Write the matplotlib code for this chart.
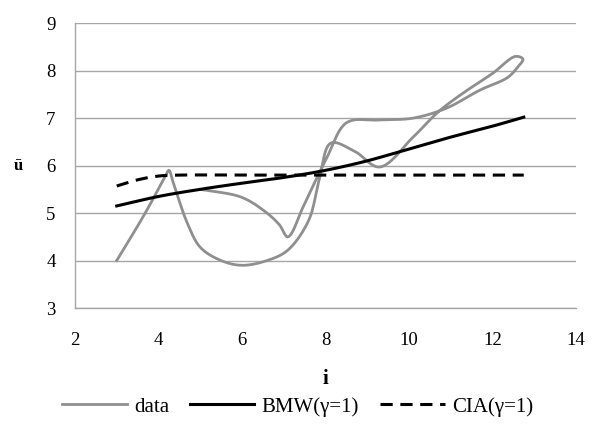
import numpy as np
import matplotlib
matplotlib.use("Agg")
import matplotlib.pyplot as plt

# data path (in drawing order)
data_i = [3.0, 3.65, 4.15, 4.25, 4.35, 4.69, 5.0, 5.5, 6.0, 6.6, 7.1, 7.6, 7.85,
          8.12, 8.7, 9.3, 10.1, 10.7, 11.3, 12.0, 12.55, 12.73, 12.6, 12.37, 11.7,
          10.9, 10.1, 9.3, 8.5, 8.05, 7.5, 7.1, 6.9, 6.6, 6.0, 5.0]
data_u = [4.0, 4.95, 5.75, 5.9, 5.65, 4.79, 4.28, 4.0, 3.9, 4.0, 4.22, 4.85, 5.7,
          6.47, 6.3, 5.97, 6.6, 7.13, 7.53, 7.94, 8.3, 8.24, 8.07, 7.86, 7.59,
          7.21, 7.0, 6.96, 6.9, 6.2, 5.2, 4.5, 4.75, 5.0, 5.33, 5.5]

bmw_i = [3.0, 4.0, 5.0, 6.0, 7.0, 8.0, 9.0, 10.0, 11.0, 12.0, 12.75]
bmw_u = [5.15, 5.35, 5.5, 5.63, 5.75, 5.9, 6.1, 6.35, 6.6, 6.83, 7.02]

cia_i = [3.0, 3.5, 4.0, 4.5, 6.0, 8.0, 10.0, 12.0, 12.75]
cia_u = [5.57, 5.7, 5.78, 5.8, 5.8, 5.8, 5.8, 5.8, 5.8]


def smooth(xs, ys, n=40):
    # centripetal catmull-rom, like the smoothed lines in a spreadsheet chart
    p = np.column_stack([xs, ys]).astype(float)
    p = np.vstack([2 * p[0] - p[1], p, 2 * p[-1] - p[-2]])
    out = []
    for k in range(1, len(p) - 2):
        p0, p1, p2, p3 = p[k - 1], p[k], p[k + 1], p[k + 2]
        t0 = 0.0
        t1 = t0 + max(np.linalg.norm(p1 - p0), 1e-6) ** 0.5
        t2 = t1 + max(np.linalg.norm(p2 - p1), 1e-6) ** 0.5
        t3 = t2 + max(np.linalg.norm(p3 - p2), 1e-6) ** 0.5
        t = np.linspace(t1, t2, n)[:, None]
        a1 = (t1 - t) / (t1 - t0) * p0 + (t - t0) / (t1 - t0) * p1
        a2 = (t2 - t) / (t2 - t1) * p1 + (t - t1) / (t2 - t1) * p2
        a3 = (t3 - t) / (t3 - t2) * p2 + (t - t2) / (t3 - t2) * p3
        b1 = (t2 - t) / (t2 - t0) * a1 + (t - t0) / (t2 - t0) * a2
        b2 = (t3 - t) / (t3 - t1) * a2 + (t - t1) / (t3 - t1) * a3
        c = (t2 - t) / (t2 - t1) * b1 + (t - t1) / (t2 - t1) * b2
        out.append(c)
    out = np.vstack(out)
    return out[:, 0], out[:, 1]


plt.rcParams["font.family"] = ["Liberation Serif", "DejaVu Serif"]

fig = plt.figure(figsize=(5.95, 4.29), dpi=100)
ax = fig.add_axes([0.126, 0.282, 0.842, 0.664])

dx, dy = smooth(data_i, data_u)
bx, by = smooth(bmw_i, bmw_u)
cx, cy = smooth(cia_i, cia_u)

ax.plot(dx, dy, color="#8f8f8f", lw=2.0, label="data", zorder=3)
ax.plot(bx, by, color="black", lw=2.2, label="BMW(γ=1)", zorder=4)
ax.plot(cx, cy, color="black", lw=2.2, ls=(0, (4, 2.5)), label="CIA(γ=1)", zorder=4)

ax.set_xlim(2, 14)
ax.set_ylim(3, 9)
ax.set_xticks(range(2, 15, 2))
ax.set_yticks(range(3, 10))
ax.grid(axis="y", color="#a6a6a6", lw=1.0)
ax.set_axisbelow(True)
for s in ["top", "right"]:
    ax.spines[s].set_visible(False)
for s in ["left", "bottom"]:
    ax.spines[s].set_color("#a6a6a6")
    ax.spines[s].set_linewidth(1.0)
ax.tick_params(length=0, labelsize=13.5)
ax.tick_params(axis="x", pad=17)
ax.tick_params(axis="y", pad=14)

ax.set_xlabel("i", fontsize=15, fontweight="bold", labelpad=15)
ax.set_ylabel("ū", fontsize=12, fontweight="bold", rotation=0, labelpad=20, va="center")

fig.legend(loc="lower center", ncol=3, frameon=False, fontsize=15,
           handlelength=3.1, columnspacing=1.0, handletextpad=0.35,
           bbox_to_anchor=(0.5, -0.015))

fig.savefig("out.png", dpi=100)
